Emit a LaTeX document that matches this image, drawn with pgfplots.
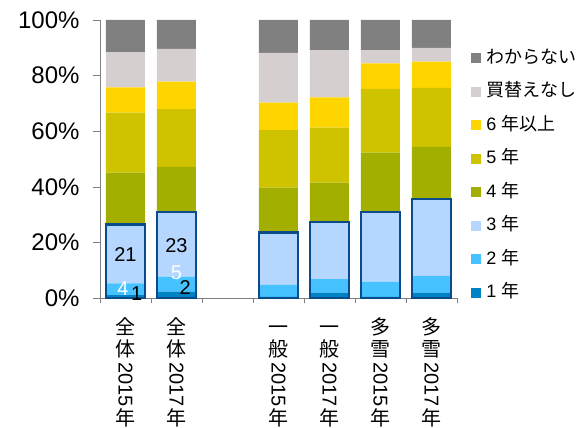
\documentclass[border=0pt]{standalone}
\usepackage{fontspec}
\setmainfont{Liberation Sans}
\newfontfamily\jp{Noto Sans CJK JP}
\usepackage{graphicx}
\usepackage{pgfplots}
\pgfplotsset{compat=1.18}
\definecolor{cUnk}{HTML}{808080}
\definecolor{cNone}{HTML}{D5D0CF}
\definecolor{cSix}{HTML}{FFD500}
\definecolor{cFive}{HTML}{CFC300}
\definecolor{cFour}{HTML}{A3AF00}
\definecolor{cThree}{HTML}{B5D7FF}
\definecolor{cTwo}{HTML}{45C2FF}
\definecolor{cOne}{HTML}{0083C4}
\definecolor{cBox}{HTML}{0B4A8B}
\newcommand{\rotnum}[1]{\rotatebox[origin=c]{-90}{#1}}
\protected\def\vlab#1#2#3{\begin{tabular}{@{}c@{}}{\jp #1}\\[-2pt]{\jp #2}\\[-1pt]\rotnum{#3\,}\\[-1pt]{\jp 年}\end{tabular}}
\pgfplotsset{
  common/.style={
    width=357pt, height=278pt, scale only axis,
    xmin=-0.5, xmax=6.5, ymin=0, ymax=100,
    bar width=39pt,
  }
}
\begin{document}
\begin{tikzpicture}
\begin{axis}[common,
  ybar stacked,
  axis x line*=bottom, axis y line*=left,
  axis line style={-, draw=gray},
  tick align=outside,
  ytick={0,20,40,60,80,100},
  major tick length=7pt,
  minor tick length=5pt,
  ytick style={gray},
  minor x tick style={gray},
  major x tick style={draw=none},
  xtick={0,1,3,4,5,6},
  minor xtick={-0.5,0.5,1.5,2.5,3.5,4.5,5.5,6.5},
  xticklabels={\vlab{全}{体}{2015},\vlab{全}{体}{2017},\vlab{一}{般}{2015},\vlab{一}{般}{2017},\vlab{多}{雪}{2015},\vlab{多}{雪}{2017}},
  xticklabel style={anchor=north, inner sep=0pt, yshift=-12pt, font=\fontsize{20}{24}\selectfont},
  yticklabel={\pgfmathprintnumber{\tick}\%},
  /pgf/number format/assume math mode=true,
  yticklabel style={font=\fontsize{24}{28}\selectfont, xshift=-10pt},
  legend image code/.code={\fill[#1] (0pt,-5pt) rectangle (10pt,5pt);},
  reverse legend,
  legend cell align=left,
  legend style={draw=none, fill=none, inner sep=0pt,
    at={(rel axis cs:1.04,0.895)}, anchor=north west,
    row sep=15.5pt, column sep=5pt,
    nodes={inner sep=0pt, text height=14pt, text depth=4pt, font=\fontsize{18}{21}\selectfont}},
]
\addplot[fill=cOne, draw=none] coordinates {(0,1) (1,2.3) (3,0.4) (4,1.9) (5,0.4) (6,1.9)};
\addlegendentry{1 {\jp 年}}
\addplot[fill=cTwo, draw=none] coordinates {(0,4.3) (1,5.4) (3,4.3) (4,4.9) (5,5.5) (6,6.1)};
\addlegendentry{2 {\jp 年}}
\addplot[fill=cThree, draw=none] coordinates {(0,21.2) (1,23.3) (3,18.8) (4,20.6) (5,25.1) (6,27.6)};
\addlegendentry{3 {\jp 年}}
\addplot[fill=cFour, draw=none] coordinates {(0,18.6) (1,16.2) (3,16.2) (4,14.1) (5,21.3) (6,18.8)};
\addlegendentry{4 {\jp 年}}
\addplot[fill=cFive, draw=none] coordinates {(0,21.6) (1,20.7) (3,20.7) (4,19.8) (5,22.9) (6,21.2)};
\addlegendentry{5 {\jp 年}}
\addplot[fill=cSix, draw=none] coordinates {(0,9.1) (1,9.9) (3,9.9) (4,10.9) (5,9.2) (6,9.4)};
\addlegendentry{6 {\jp 年以上}}
\addplot[fill=cNone, draw=none] coordinates {(0,12.6) (1,11.8) (3,17.9) (4,17.0) (5,4.8) (6,5.0)};
\addlegendentry{{\jp 買替えなし}}
\addplot[fill=cUnk, draw=none] coordinates {(0,11.6) (1,10.4) (3,11.8) (4,10.8) (5,10.8) (6,10.0)};
\addlegendentry{{\jp わからない}}
\end{axis}
\begin{axis}[common, hide axis, clip=false, ybar]
\addplot[fill=none, draw=cBox, line width=2.5pt] coordinates {(0,26.5) (1,31.0) (3,23.5) (4,27.4) (5,31.0) (6,35.6)};
\node[font=\fontsize{20}{22}\selectfont] at (axis cs:0,15.5) {21};
\node[font=\fontsize{20}{22}\selectfont, text=white] at (axis cs:-0.05,3.3) {4};
\node[font=\fontsize{20}{22}\selectfont] at (axis cs:0.22,1.5) {1};
\node[font=\fontsize{20}{22}\selectfont] at (axis cs:1,18.8) {23};
\node[font=\fontsize{20}{22}\selectfont, text=white] at (axis cs:1,9) {5};
\node[font=\fontsize{20}{22}\selectfont] at (axis cs:1.17,3.6) {2};
\end{axis}
\pgfresetboundingbox
\path[use as bounding box] (-100pt,-130pt) rectangle (481pt,298pt);
\end{tikzpicture}
\end{document}
